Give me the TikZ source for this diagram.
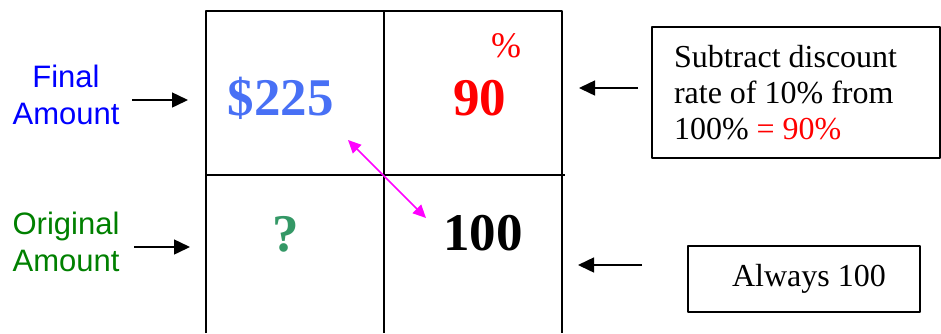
\documentclass[tikz,border=0pt]{standalone}
\usepackage{fontspec}
\setmainfont{Liberation Serif}
\setsansfont{Liberation Sans}
\usetikzlibrary{arrows.meta}
\definecolor{finalblue}{RGB}{0,0,255}
\definecolor{origgreen}{RGB}{0,128,0}
\definecolor{amountblue}{RGB}{72,112,245}
\definecolor{askgreen}{RGB}{52,152,102}
\definecolor{linkpink}{RGB}{255,0,255}
\begin{document}
\begin{tikzpicture}[>={Triangle[length=16pt,width=15pt]},x=1pt,y=-1pt, line join=round,
    big/.style={font=\fontsize{53}{53}\selectfont\bfseries, anchor=base, inner sep=0pt},
    side/.style={font=\sffamily\fontsize{31}{37}\selectfont, align=center, inner sep=0pt},
    note/.style={draw, line width=1.5pt, font=\fontsize{32}{36}\selectfont},
    pointer/.style={->, line width=1.5pt}]
        \def\xl{206} \def\xm{384} \def\xr{562} \def\ytop{11} \def\ymid{175} \def\ybot{333}
        \useasboundingbox (0,0) rectangle (941,333);
        % the table
        \draw[line width=1.6pt] (\xl,\ybot)--(\xl,\ytop)--(\xr,\ytop)--(\xr,\ybot);
        \draw[line width=1.6pt] (\xm,\ytop-1)--(\xm,\ybot);
        \draw[line width=1.6pt] (\xl,\ymid)--(\xr+3,\ymid);
        \node[big, text=amountblue] (amt) at (280.5,115) {\$225};
        \node[big, text=askgreen] (ask) at (286,251) {?};
        \node[big, text=red] (pct) at (479.5,115) {90};
        \node[anchor=base, inner sep=0pt, text=red, font=\fontsize{36}{36}\selectfont] (pctsign) at (506,57) {\%};
        \node[big] (base) at (483,250) {100};
        \coordinate (linkA) at (348,140); \coordinate (linkB) at (426,218);
        \draw[<->, linkpink, line width=1.6pt, >={Triangle[length=13pt,width=12pt]}] (linkA) -- (linkB);
        % labels on the left
        \node[side, text=finalblue] (finlab) at (66,94.5) {Final\\Amount};
        \node[side, text=origgreen] (origlab) at (66,241.5) {Original\\Amount};
        \coordinate (finA) at (132,100); \coordinate (finB) at (188,100);
        \coordinate (origA) at (134,247); \coordinate (origB) at (190,247);
        \draw[pointer] (finA) -- (finB);
        \draw[pointer] (origA) -- (origB);
        % notes on the right
        \node[note, minimum width=288pt, minimum height=131pt, text width=244pt, inner xsep=22pt, align=flush left] (rule) at (796,92.5)
            {Subtract discount\\rate of 10\% from\\100\% \textcolor{red}{= 90\%}};
        \node[note, minimum width=232pt, minimum height=66pt, text width=170pt, inner xsep=31pt, align=flush center] (always) at (804,279) {\hspace*{10pt}Always 100};
        \coordinate (ruleA) at (638,88); \coordinate (ruleB) at (579,88);
        \coordinate (alwA) at (642,265); \coordinate (alwB) at (578,265);
        \draw[pointer] (ruleA) -- (ruleB);
        \draw[pointer] (alwA) -- (alwB);
    \end{tikzpicture}
\end{document}
